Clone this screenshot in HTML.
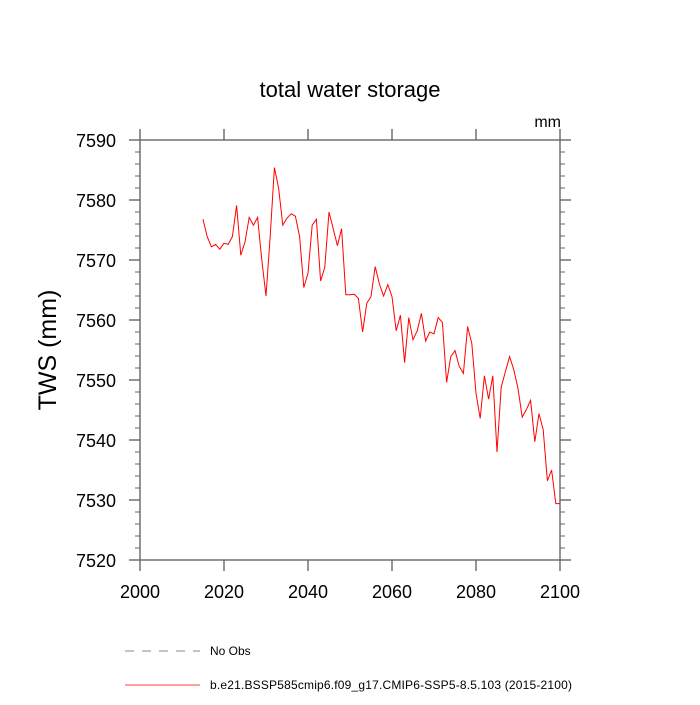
<!DOCTYPE html>
<html><head><meta charset="utf-8"><style>
body{margin:0;background:#fff}
svg text{font-family:"Liberation Sans",sans-serif}
</style></head><body>
<svg id="chart" width="700" height="700" xmlns="http://www.w3.org/2000/svg">
<text x="350" y="97" text-anchor="middle" font-size="22">total water storage</text>
<text x="561" y="127" text-anchor="end" font-size="16">mm</text>
<text transform="translate(56,350) rotate(-90)" text-anchor="middle" font-size="25">TWS  (mm)</text>
<g id="axes"></g>
<polyline id="series" fill="none" stroke="#ff0000" stroke-width="1"/>
<line x1="125" y1="651" x2="200" y2="651" stroke="#888" stroke-dasharray="9,8"/>
<text x="210" y="655" font-size="12">No Obs</text>
<line x1="125" y1="685" x2="200" y2="685" stroke="#ff0000" stroke-width="0.8"/>
<text x="210" y="689" font-size="12" textLength="362">b.e21.BSSP585cmip6.f09_g17.CMIP6-SSP5-8.5.103 (2015-2100)</text>
</svg>
<script>
const years=[];for(let y=2015;y<=2100;y++)years.push(y);
const tws=[7576.8,7573.9,7572.2,7572.6,7571.8,7572.8,7572.6,7573.9,7579.1,7570.8,
7573.0,7577.1,7575.8,7577.1,7570.0,7564.0,7574.0,7585.4,7582.0,7575.8,
7577.0,7577.7,7577.3,7573.9,7565.4,7567.8,7575.8,7576.8,7566.5,7568.8,
7578.0,7575.2,7572.4,7575.2,7564.2,7564.2,7564.3,7563.6,7558.0,7562.8,
7563.9,7568.9,7566.0,7564.0,7565.9,7563.9,7558.2,7560.8,7552.9,7560.4,
7556.7,7558.2,7561.1,7556.5,7558.0,7557.7,7560.4,7559.6,7549.6,7553.9,
7554.9,7552.3,7551.1,7558.9,7556.1,7547.8,7543.6,7550.7,7546.8,7550.7,
7538.0,7548.8,7551.4,7553.9,7551.7,7548.6,7543.8,7545.1,7546.6,7539.7,
7544.4,7541.7,7533.2,7535.0,7529.4,7529.4];
const xTicks=[2000,2020,2040,2060,2080,2100];
const yTicks=[7520,7530,7540,7550,7560,7570,7580,7590];
const L=140,R=560,T=140,B=560;
const xs=v=>L+(v-2000)/100*(R-L);
const ys=v=>B-(v-7520)/70*(B-T);
const NS="http://www.w3.org/2000/svg";
const ax=document.getElementById('axes');
const AC='#666';
function ln(x1,y1,x2,y2,w){const l=document.createElementNS(NS,'line');
l.setAttribute('x1',x1);l.setAttribute('y1',y1);l.setAttribute('x2',x2);l.setAttribute('y2',y2);
l.setAttribute('stroke',AC);l.setAttribute('stroke-width',w||1);ax.appendChild(l);return l;}
function tx(x,y,s,a){const t=document.createElementNS(NS,'text');t.setAttribute('x',x);t.setAttribute('y',y);
t.setAttribute('font-size','18');t.setAttribute('text-anchor',a);t.textContent=s;ax.appendChild(t);return t;}
const fr=document.createElementNS(NS,'rect');
fr.setAttribute('x',L);fr.setAttribute('y',T);fr.setAttribute('width',R-L);fr.setAttribute('height',B-T);
fr.setAttribute('fill','none');fr.setAttribute('stroke',AC);fr.setAttribute('stroke-width','1.4');


ax.appendChild(fr);
xTicks.forEach(v=>{const x=xs(v);ln(x,B,x,B+11,1.4);ln(x,T,x,T-11,1.4);});
for(let v=7520;v<=7590;v+=2){const y=ys(v),maj=v%10===0,len=maj?11:5;
ln(L,y,L-len,y,maj?1.4:1);ln(R,y,R+len,y,maj?1.4:1);}
xTicks.forEach(v=>{const t=tx(xs(v),B+38,String(v),'middle');

});
yTicks.forEach(v=>{const t=tx(L-24,ys(v)+7,String(v),'end');

});
document.getElementById('series').setAttribute('points',years.map((y,i)=>xs(y)+','+ys(tws[i])).join(' '));
</script>
</body></html>
